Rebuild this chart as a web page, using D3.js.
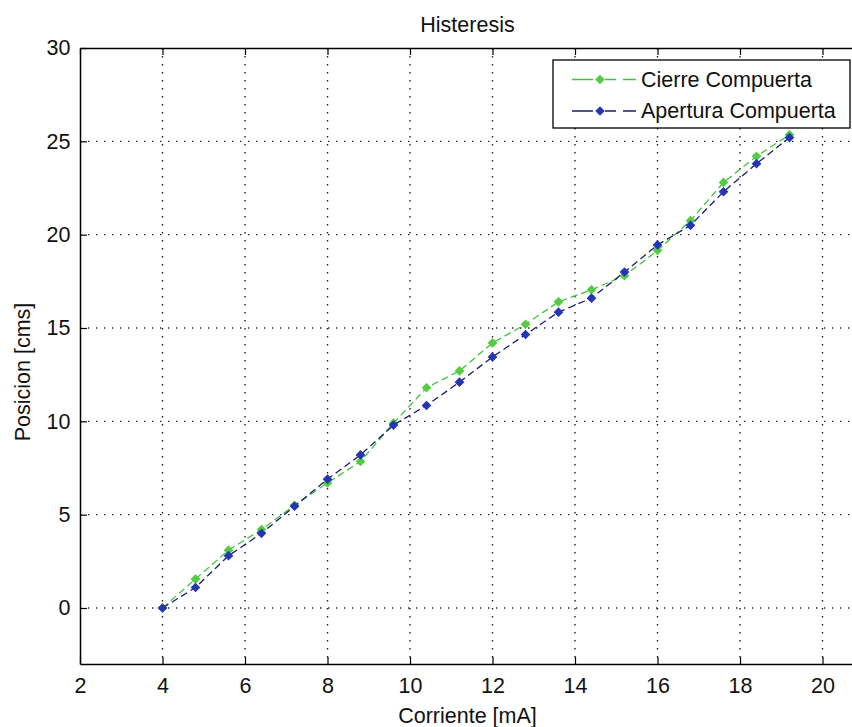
<!DOCTYPE html>
<html><head><meta charset="utf-8">
<script src="https://cdn.jsdelivr.net/npm/d3@7"></script>
<style>body{margin:0;background:#fff}svg{display:block}text{font-family:"Liberation Sans",Arial,sans-serif;fill:#111}</style>
</head><body><svg id="c" width="852" height="727"></svg>
<script>
const corriente = [4, 4.8, 5.6, 6.4, 7.2, 8, 8.8, 9.6, 10.4, 11.2, 12, 12.8, 13.6, 14.4, 15.2, 16, 16.8, 17.6, 18.4, 19.2];
const cierre   = [0, 1.55, 3.1, 4.2, 5.5, 6.7, 7.85, 9.9, 11.8, 12.7, 14.2, 15.2, 16.4, 17.05, 17.8, 19.15, 20.75, 22.8, 24.2, 25.35];
const apertura = [0, 1.1, 2.8, 4.0, 5.45, 6.9, 8.2, 9.8, 10.85, 12.1, 13.45, 14.65, 15.85, 16.6, 18.0, 19.45, 20.5, 22.3, 23.8, 25.2];
const xTicks = [2, 4, 6, 8, 10, 12, 14, 16, 18, 20];
const yTicks = [0, 5, 10, 15, 20, 25, 30];
const seriesNames = ["Cierre Compuerta", "Apertura Compuerta"];
const titleText = "Histeresis";
const xLabel = "Corriente [mA]";
const yLabel = "Posicion [cms]";

const FS = "21.5px";
const svg = d3.select("#c");
const L = 80, R = 863.75, T = 48, B = 664;
const x = d3.scaleLinear().domain([2, 21]).range([L, R]);
const y = d3.scaleLinear().domain([-3, 30]).range([B, T]);

const series = [
  {name: seriesNames[0], vals: cierre, line: "#3cc43c", mark: "#52cc40"},
  {name: seriesNames[1], vals: apertura, line: "#1c1c70", mark: "#2436b4"}
];

// grid
const g = svg.append("g");
g.selectAll(".gx").data(xTicks.filter(v => v > 2)).join("line")
  .attr("x1", d => x(d)).attr("x2", d => x(d)).attr("y1", T).attr("y2", B)
  .attr("stroke", "#222").attr("stroke-width", 1.4).attr("stroke-dasharray", "1.4,6.6");
g.selectAll(".gy").data(yTicks.filter(v => v < 30)).join("line")
  .attr("x1", L).attr("x2", R).attr("y1", d => y(d)).attr("y2", d => y(d))
  .attr("stroke", "#222").attr("stroke-width", 1.4).attr("stroke-dasharray", "1.4,6.6");

// axes
const axB = svg.append("g").attr("transform", `translate(0,${B})`)
  .call(d3.axisBottom(x).tickValues(xTicks).tickSizeInner(-7).tickSizeOuter(0).tickPadding(14));
const axL = svg.append("g").attr("transform", `translate(${L},0)`)
  .call(d3.axisLeft(y).tickValues(yTicks).tickSizeInner(-7).tickSizeOuter(0).tickPadding(9.5));
const axT = svg.append("g").attr("transform", `translate(0,${T})`)
  .call(d3.axisTop(x).tickValues(xTicks).tickSizeInner(-7).tickSizeOuter(0).tickFormat(""));
const axR = svg.append("g").attr("transform", `translate(${R},0)`)
  .call(d3.axisRight(y).tickValues(yTicks).tickSizeInner(-7).tickSizeOuter(0).tickFormat(""));
[axB, axL, axT, axR].forEach(a => {
  a.select(".domain").attr("stroke", "#000").attr("stroke-width", 1.5);
  a.selectAll(".tick line").attr("stroke", "#000").attr("stroke-width", 1.2);
  a.selectAll("text").style("font-size", FS).attr("fill", "#111");
});

// data
const line = d3.line().x((d, i) => x(corriente[i])).y(d => y(d));
const diamond = d3.symbol().type(d3.symbolSquare).size(34);
series.forEach(s => {
  svg.append("path").attr("d", line(s.vals)).attr("fill", "none")
    .attr("stroke", s.line).attr("stroke-width", 1.3).attr("stroke-dasharray", "7,4");
  svg.append("g").selectAll("path").data(s.vals).join("path")
    .attr("d", diamond).attr("transform", (d, i) => `translate(${x(corriente[i])},${y(d)}) rotate(45)`)
    .attr("fill", s.mark).attr("stroke", s.mark).attr("stroke-width", 1);
});

// title and labels
const cx = 467.5;
svg.append("text").attr("x", cx).attr("y", 31.5).attr("text-anchor", "middle")
  .style("font-size", FS).text(titleText);
svg.append("text").attr("x", cx).attr("y", 723).attr("text-anchor", "middle")
  .style("font-size", FS).text(xLabel);
svg.append("text").attr("transform", "translate(30,372) rotate(-90)").attr("text-anchor", "middle")
  .style("font-size", FS).text(yLabel);

// legend
const lg = svg.append("g");
lg.append("rect").attr("x", 553).attr("y", 60).attr("width", 297).attr("height", 68)
  .attr("fill", "#fff").attr("stroke", "#000").attr("stroke-width", 1.3);
series.forEach((s, i) => {
  const cy = 79.5 + i * 31.5;
  lg.append("line").attr("x1", 572).attr("x2", 636).attr("y1", cy).attr("y2", cy)
    .attr("stroke", s.line).attr("stroke-width", 1.3).attr("stroke-dasharray", "21,12,11,7,13");
  lg.append("path").attr("d", diamond).attr("transform", `translate(600,${cy}) rotate(45)`)
    .attr("fill", s.mark).attr("stroke", s.mark);
  lg.append("text").attr("x", 641).attr("y", cy + 7).style("font-size", FS).text(s.name);
});
</script></body></html>
